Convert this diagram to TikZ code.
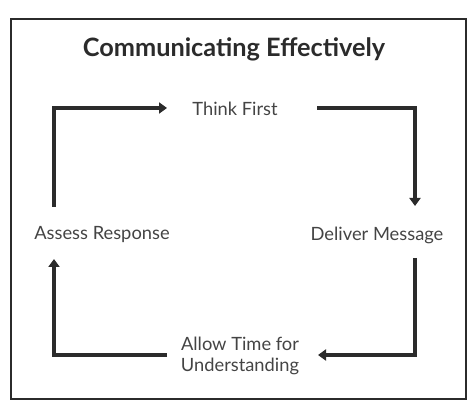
\documentclass[tikz,border=0pt]{standalone}
\usepackage{fontspec}
\setmainfont{Lato}
\usetikzlibrary{arrows.meta}
\definecolor{ink}{HTML}{2B2B2B}
\definecolor{txt}{HTML}{444444}
\tikzset{
  flow/.style={draw=ink, line width=4.5pt, -{Triangle[width=11pt,length=8pt]}},
  lbl/.style={text=txt, font=\fontsize{18.3}{21}\selectfont, align=center, inner sep=0pt},
}
\begin{document}
\begin{tikzpicture}[x=1pt,y=-1pt]
\useasboundingbox (0,0) rectangle (474,406);
\draw[draw=ink, line width=2pt] (11,19) rectangle (466,399);
\node[text=ink, font=\fontsize{25.3}{29}\selectfont\bfseries] (title) at (234,49) {Communicating Effectively};
\node[lbl] (think) at (235,109) {Think First};
\node[lbl] (deliver) at (377,235) {Deliver Message};
\node[lbl] (assess) at (102,235) {Assess Response};
\node[lbl] (allow) at (240,356) {Allow Time for\\Understanding};
\coordinate (a1) at (54,207);
\coordinate (a2) at (167,108);
\coordinate (b1) at (317,108);
\coordinate (b2) at (415,206);
\coordinate (c1) at (415,258);
\coordinate (c2) at (318,355);
\coordinate (d1) at (167,355);
\coordinate (d2) at (54,259);
\draw[flow] (a1) |- (a2);
\draw[flow] (b1) -| (b2);
\draw[flow] (c1) |- (c2);
\draw[flow] (d1) -| (d2);
\end{tikzpicture}
\end{document}
